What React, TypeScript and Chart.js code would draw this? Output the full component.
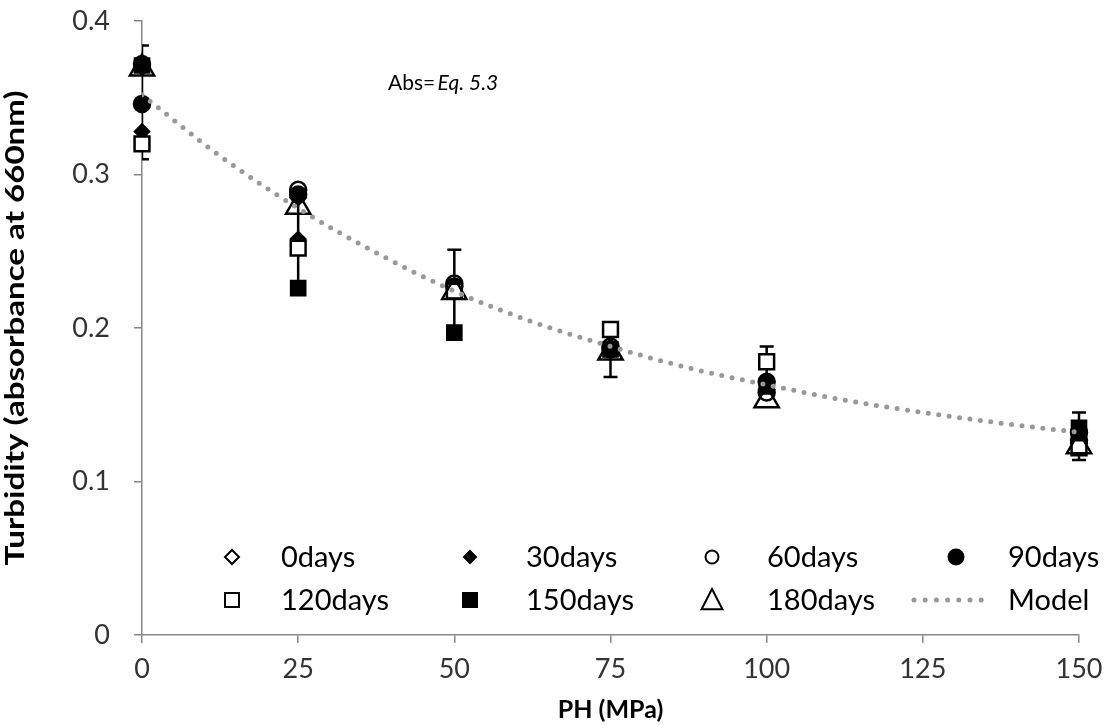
import React, { useEffect, useRef } from 'react';
import { Chart, registerables } from 'chart.js';

Chart.register(...registerables);

// ---------- data ----------
const pressures = [0, 25, 50, 75, 100, 150];
const days0 = [0.370, 0.285, 0.227, 0.187, 0.160, 0.125];
const days30 = [0.328, 0.258, 0.225, 0.188, 0.166, 0.133];
const days60 = [0.372, 0.290, 0.229, 0.188, 0.158, 0.127];
const days90 = [0.346, 0.287, 0.227, 0.186, 0.165, 0.132];
const days120 = [0.320, 0.252, 0.224, 0.199, 0.178, 0.122];
const days150 = [0.371, 0.226, 0.197, 0.186, 0.162, 0.135];
const days180 = [0.369, 0.279, 0.2235, 0.184, 0.153, 0.123];
const errLow = [0.310, 0.226, 0.197, 0.168, 0.155, 0.114];
const errHigh = [0.384, 0.287, 0.251, 0.199, 0.188, 0.145];
const modelX = [0, 12.5, 25, 37.5, 50, 62.5, 75, 87.5, 100, 112.5, 125, 137.5, 150];
const modelY = [0.352, 0.312, 0.278, 0.249, 0.224, 0.204, 0.188, 0.174, 0.163, 0.153, 0.145, 0.138, 0.132];
const seriesLabels = ['0days', '30days', '60days', '90days', '120days', '150days', '180days', 'Model'];
const xTickValues = [0, 25, 50, 75, 100, 125, 150];
const yTickValues = [0, 0.1, 0.2, 0.3, 0.4];
const xTitle = 'PH (MPa)';
const yTitle = 'Turbidity (absorbance at 660nm)';
const annotationPlain = 'Abs= ';
const annotationItalic = 'Eq. 5.3';

const FONT = 'Lato, "Open Sans", sans-serif';

type Shape = 'diamond' | 'circle' | 'square' | 'triangle' | 'dots';

function drawMarker(ctx: CanvasRenderingContext2D, shape: Shape, x: number, y: number, s: number, filled: boolean) {
  ctx.save();
  ctx.beginPath();
  if (shape === 'diamond') {
    ctx.moveTo(x, y - s); ctx.lineTo(x + s, y); ctx.lineTo(x, y + s); ctx.lineTo(x - s, y); ctx.closePath();
  } else if (shape === 'circle') {
    ctx.arc(x, y, s, 0, Math.PI * 2);
  } else if (shape === 'square') {
    ctx.rect(x - s, y - s, 2 * s, 2 * s);
  } else if (shape === 'triangle') {
    ctx.moveTo(x, y - s); ctx.lineTo(x + s * 0.95, y + s * 0.85); ctx.lineTo(x - s * 0.95, y + s * 0.85); ctx.closePath();
  }
  ctx.fillStyle = filled ? '#000' : '#fff';
  ctx.fill();
  ctx.strokeStyle = '#000';
  ctx.lineWidth = 2;
  ctx.stroke();
  ctx.restore();
}

const legendPlugin = {
  id: 'customLegend',
  afterDraw(chart: any) {
    const ctx: CanvasRenderingContext2D = chart.ctx;
    const area = chart.chartArea;
    const shapes: { shape: Shape; filled: boolean; size: number }[] = [
      { shape: 'diamond', filled: false, size: 7 },
      { shape: 'diamond', filled: true, size: 6 },
      { shape: 'circle', filled: false, size: 6.5 },
      { shape: 'circle', filled: true, size: 7.5 },
      { shape: 'square', filled: false, size: 7 },
      { shape: 'square', filled: true, size: 7 },
      { shape: 'triangle', filled: false, size: 11 },
      { shape: 'dots', filled: false, size: 0 },
    ];
    const markerX = [232, 470, 712, 956];
    const textX = [281, 526, 767, 1008];
    const rowY = [557, 600];
    ctx.save();
    ctx.font = `29px ${FONT}`;
    ctx.fillStyle = '#000';
    ctx.textBaseline = 'middle';
    ctx.textAlign = 'left';
    seriesLabels.forEach((label, i) => {
      const col = i % 4;
      const row = Math.floor(i / 4);
      const y = rowY[row];
      const m = shapes[i];
      if (m.shape === 'dots') {
        ctx.fillStyle = '#999';
        for (let k = 0; k < 7; k++) {
          ctx.beginPath();
          ctx.arc(914 + k * 11.2, y, 2.5, 0, Math.PI * 2);
          ctx.fill();
        }
        ctx.fillStyle = '#000';
      } else {
        drawMarker(ctx, m.shape, markerX[col], y, m.size, m.filled);
      }
      ctx.fillStyle = '#000';
      ctx.fillText(label, textX[col], y + 1);
    });
    // annotation
    ctx.textBaseline = 'alphabetic';
    ctx.font = `21px ${FONT}`;
    ctx.fillStyle = '#000';
    ctx.fillText(annotationPlain, 388, 90);
    const w = ctx.measureText(annotationPlain).width;
    ctx.font = `italic 21px ${FONT}`;
    ctx.fillText(annotationItalic, 388 + w - 3, 90);

    // y-axis title (stretched along its length like the reference)
    ctx.save();
    ctx.font = `bold 26px ${FONT}`;
    ctx.textAlign = 'center';
    ctx.textBaseline = 'middle';
    const tw = ctx.measureText(yTitle).width;
    const targetLen = 475;
    ctx.translate(16, (area.top + area.bottom) / 2);
    ctx.rotate(-Math.PI / 2);
    ctx.scale(targetLen / tw, 1);
    ctx.fillText(yTitle, 0, 0);
    ctx.restore();
    ctx.restore();
  },
};

const errorBarPlugin = {
  id: 'errorBars',
  beforeDatasetsDraw(chart: any) {
    const ctx: CanvasRenderingContext2D = chart.ctx;
    const xs = chart.scales.x;
    const ys = chart.scales.y;
    const area = chart.chartArea;
    ctx.save();
    ctx.beginPath();
    ctx.rect(area.left, area.top - 20, area.right - area.left + 20, area.bottom - area.top + 20);
    ctx.clip();
    ctx.strokeStyle = '#000';
    ctx.lineWidth = 2.5;
    pressures.forEach((p, i) => {
      const x = xs.getPixelForValue(p);
      const y1 = ys.getPixelForValue(errLow[i]);
      const y2 = ys.getPixelForValue(errHigh[i]);
      ctx.beginPath();
      ctx.moveTo(x, y1); ctx.lineTo(x, y2);
      ctx.moveTo(x - 7, y1); ctx.lineTo(x + 7, y1);
      ctx.moveTo(x - 7, y2); ctx.lineTo(x + 7, y2);
      ctx.stroke();
    });
    ctx.restore();
  },
};

function pts(values: number[]) {
  return pressures.map((p, i) => ({ x: p, y: values[i] }));
}

export default function App() {
  const ref = useRef<HTMLCanvasElement>(null);
  useEffect(() => {
    if (!ref.current) return;
    const base = { type: 'scatter' as const, showLine: false, borderColor: '#000', borderWidth: 2.5, clip: false as any };
    const chart = new Chart(ref.current, {
      type: 'scatter',
      data: {
        datasets: [
          { ...base, label: seriesLabels[0], data: pts(days0), pointStyle: 'rectRot', pointRadius: 7.5, backgroundColor: '#fff', order: 7 },
          { ...base, label: seriesLabels[1], data: pts(days30), pointStyle: 'rectRot', pointRadius: 7, backgroundColor: '#000', order: 6 },
          { ...base, label: seriesLabels[2], data: pts(days60), pointStyle: 'circle', pointRadius: 8, backgroundColor: '#fff', order: 5 },
          { ...base, label: seriesLabels[3], data: pts(days90), pointStyle: 'circle', pointRadius: 8, backgroundColor: '#000', order: 4 },
          { ...base, label: seriesLabels[4], data: pts(days120), pointStyle: 'rect', pointRadius: 10.5, backgroundColor: '#fff', order: 3 },
          { ...base, label: seriesLabels[5], data: pts(days150), pointStyle: 'rect', pointRadius: 10, backgroundColor: '#000', order: 2 },
          { ...base, label: seriesLabels[6], data: pts(days180), pointStyle: 'triangle', pointRadius: 14, backgroundColor: 'rgba(0,0,0,0)', order: 1 },
          {
            type: 'line',
            label: seriesLabels[7],
            data: modelX.map((x, i) => ({ x, y: modelY[i] })),
            borderColor: '#999',
            borderWidth: 5,
            borderDash: [0, 10.5],
            borderCapStyle: 'round',
            pointRadius: 0,
            cubicInterpolationMode: 'monotone',
            fill: false,
            order: 0,
          } as any,
        ],
      },
      options: {
        animation: false,
        responsive: false,
        layout: { padding: { top: 21, right: 28, left: 0, bottom: 0 } },
        plugins: { legend: { display: false }, tooltip: { enabled: false } },
        scales: {
          x: {
            type: 'linear',
            min: 0,
            max: 150,
            afterFit: (s: any) => { s.height = 90; s.paddingLeft = 0; s.paddingRight = 0; },
            afterBuildTicks: (s: any) => { s.ticks = xTickValues.map((v) => ({ value: v })); },
            ticks: { font: { size: 27, family: FONT }, color: '#333', padding: 10, maxRotation: 0, autoSkip: false },
            grid: { drawOnChartArea: false, drawTicks: true, tickLength: 8, color: '#888', lineWidth: 1.5 },
            border: { color: '#888', width: 1.5 },
            title: { display: true, text: xTitle, font: { size: 25, weight: 'bold', family: FONT }, color: '#000', padding: 0 },
          },
          y: {
            type: 'linear',
            min: 0,
            max: 0.4,
            afterFit: (s: any) => { s.width = 142; s.paddingTop = 0; s.paddingBottom = 0; },
            afterBuildTicks: (s: any) => { s.ticks = yTickValues.map((v) => ({ value: v })); },
            ticks: { font: { size: 27, family: FONT }, color: '#333', padding: 24, callback: (v: any) => String(Math.round(Number(v) * 10) / 10) },
            grid: { drawOnChartArea: false, drawTicks: true, tickLength: 8, color: '#888', lineWidth: 1.5 },
            border: { color: '#888', width: 1.5 },
            title: { display: false, text: yTitle },
          },
        },
      },
      plugins: [errorBarPlugin, legendPlugin],
    });
    return () => chart.destroy();
  }, []);
  return (
    <div style={{ position: 'fixed', left: 0, top: 0, width: 1107, height: 725, background: '#fff' }}>
      <canvas ref={ref} width={1107} height={725} style={{ width: 1107, height: 725 }} />
    </div>
  );
}
